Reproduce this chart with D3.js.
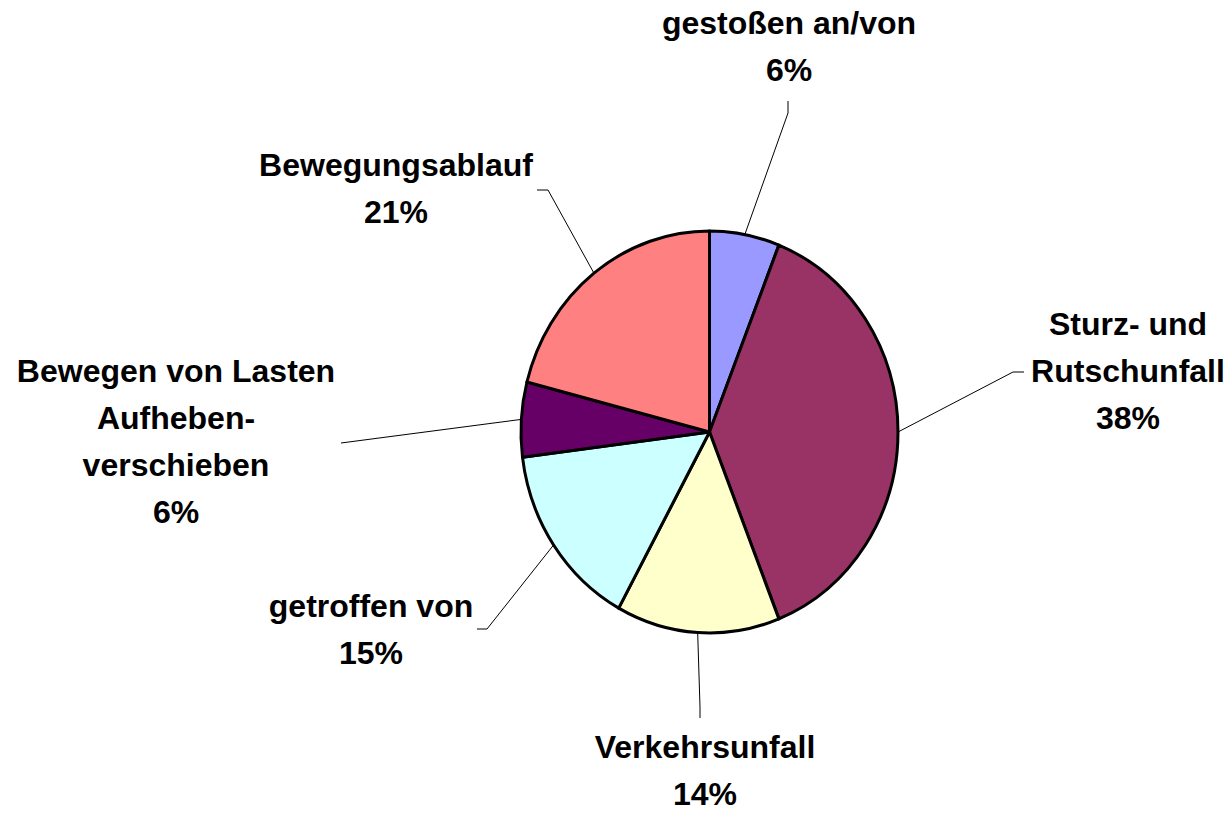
<!DOCTYPE html>
<meta charset="utf-8">
<style>
    body {
        margin: 0;
        background: #fff;
    }

    .label {
        font: bold 32px "Liberation Sans", Arial, sans-serif;
        fill: #000;
        text-anchor: middle;
    }

    .leader {
        fill: none;
        stroke: #000;
        stroke-width: 1;
    }
</style>

<body>
    <script src="https://d3js.org/d3.v7.min.js"></script>
    <script>

        // data, clockwise from 12 o'clock
        var categories = ["gestoßen an/von", "Sturz- und Rutschunfall", "Verkehrsunfall",
            "getroffen von", "Bewegen von Lasten Aufheben-verschieben", "Bewegungsablauf"];
        var values = [6, 38, 14, 15, 6, 21];
        var labelLines = [
            ["gestoßen an/von"],
            ["Sturz- und", "Rutschunfall"],
            ["Verkehrsunfall"],
            ["getroffen von"],
            ["Bewegen von Lasten", "Aufheben-", "verschieben"],
            ["Bewegungsablauf"]
        ];
        var colors = ["#9999FF", "#993366", "#FFFFCC", "#CCFFFF", "#660066", "#FF8080"];

        // layout: label anchor (center x, first baseline) and leader knee/end points
        var labelAnchor = [[789, 34], [1128, 335], [705, 758], [371, 617], [176, 382], [396, 176]];
        var leaderPts = [
            [[788, 113], [788, 101]],
            [[1013, 372], [1024, 372]],
            [[700, 707], [700, 718]],
            [[487, 629], [477, 629]],
            [[341, 443]],
            [[548, 190], [537, 190]]
        ];

        var width = 1232, height = 814;
        var cx = 709.5, cy = 432, rx = 188.5, ry = 201;
        var lineH = 47;

        var svg = d3.select("body").append("svg")
            .attr("width", width)
            .attr("height", height);

        var data = categories.map(function (c, i) {
            return { name: c, value: values[i], color: colors[i], lines: labelLines[i], i: i };
        });

        var pie = d3.pie().sort(null).value(function (d) { return d.value; });
        var arc = d3.arc().innerRadius(0).outerRadius(ry);
        var arcs = pie(data);

        svg.append("g")
            .attr("transform", "translate(" + cx + "," + cy + ") scale(" + (rx / ry) + ",1)")
            .selectAll("path")
            .data(arcs)
            .enter().append("path")
            .attr("d", arc)
            .attr("fill", function (d) { return d.data.color; })
            .attr("stroke", "#000")
            .attr("stroke-width", 3)
            .attr("stroke-linejoin", "round")
            .attr("vector-effect", "non-scaling-stroke");

        // leader lines from slice edge (mid angle) to label
        var line = d3.line();
        svg.selectAll(".leader")
            .data(arcs)
            .enter().append("path")
            .attr("class", "leader")
            .attr("d", function (d) {
                var a = (d.startAngle + d.endAngle) / 2;
                var p0 = [cx + Math.sin(a) * rx, cy - Math.cos(a) * ry];
                return line([p0].concat(leaderPts[d.data.i]));
            });

        var labels = svg.selectAll(".label")
            .data(arcs)
            .enter().append("text")
            .attr("class", "label")
            .attr("x", function (d) { return labelAnchor[d.data.i][0]; })
            .attr("y", function (d) { return labelAnchor[d.data.i][1]; });

        labels.each(function (d) {
            var t = d3.select(this);
            var rows = d.data.lines.concat([d.data.value + "%"]);
            rows.forEach(function (r, k) {
                t.append("tspan")
                    .attr("x", labelAnchor[d.data.i][0])
                    .attr("dy", k === 0 ? 0 : lineH)
                    .text(r);
            });
        });

    </script>
</body>
